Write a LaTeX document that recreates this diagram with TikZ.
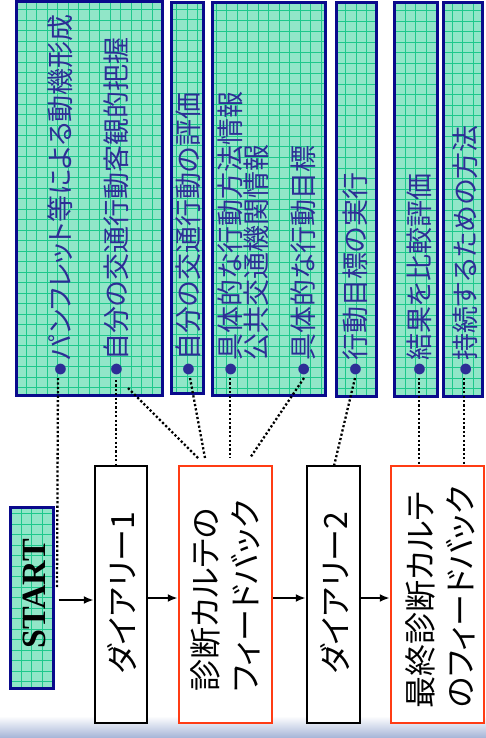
\documentclass[tikz,border=0pt]{standalone}
\usepackage{fontspec}
\setmainfont{Noto Sans CJK JP}[RawFeature=+palt]
\newfontfamily\startfont{Liberation Serif}
\usetikzlibrary{arrows.meta}
\definecolor{mint}{RGB}{145,230,200}
\definecolor{gridg}{RGB}{30,200,140}
\definecolor{navy}{RGB}{10,10,140}
\definecolor{tblue}{RGB}{45,45,150}
\definecolor{redo}{RGB}{255,60,20}
\definecolor{barblue}{RGB}{165,180,215}
\newcommand\bul{\raisebox{5pt}{\fontsize{12}{12}\selectfont ●}\hspace{3pt}}
\begin{document}
\begin{tikzpicture}[x=1pt,y=-1pt,
  tealbox/.style={draw=navy, line width=3pt, fill=mint, inner sep=0pt,
    path picture={\draw[gridg, line width=0.8pt] (path picture bounding box.south west) grid[step=10.5pt] (path picture bounding box.north east);}},
  ttxt/.style={rotate=90, anchor=west, text=tblue, font=\fontsize{27}{30}\selectfont, inner sep=0pt},
  flowbox/.style={draw=black, line width=2.5pt, fill=white, inner sep=0pt, minimum height=257pt},
  redbox/.style={draw=redo, line width=2.5pt, fill=white, inner sep=0pt, minimum height=257pt},
  ftxt/.style={rotate=90, align=left, font=\fontsize{32}{40}\selectfont, inner sep=0pt},
  dotl/.style={line width=2.3pt, dash pattern=on 2.2pt off 2.2pt},
  arr/.style={line width=2.3pt, -{Latex[length=10pt,width=8pt]}}]
\useasboundingbox (0,0) rectangle (486,738);
\shade[top color=white, bottom color=barblue] (0,716) rectangle (486,738);

% teal boxes
\node[tealbox, minimum width=146pt, minimum height=393pt] (boxA) at (89,198.5) {};
\node[tealbox, minimum width=32pt, minimum height=390pt] (boxB) at (187,198) {};
\node[tealbox, minimum width=113pt, minimum height=392pt] (boxC) at (268.5,199) {};
\node[tealbox, minimum width=40pt, minimum height=393pt] (boxD) at (356,199.5) {};
\node[tealbox, minimum width=43pt, minimum height=393pt] (boxE) at (415.5,199.5) {};
\node[tealbox, minimum width=39pt, minimum height=393pt] (boxF) at (462.5,199.5) {};

\node[ttxt] (tA1) at (60,376) {\bul パンフレット等による動機形成};
\node[ttxt] (tA2) at (116,376) {\bul 自分の交通行動客観的把握};
\node[ttxt] (tB) at (188,376) {\bul 自分の交通行動の評価};
\node[ttxt] (tC1) at (230,376) {\bul 具体的な行動方法情報};
\node[ttxt] (tC2) at (256,376) {\phantom{\bul}公共交通機関情報};
\node[ttxt] (tC3) at (303,376) {\bul 具体的な行動目標};
\node[ttxt] (tD) at (355,376) {\bul 行動目標の実行};
\node[ttxt] (tE) at (419,376) {\bul 結果を比較評価};
\node[ttxt] (tF) at (465,376) {\bul 持続するための方法};

% flow boxes
\node[tealbox, minimum width=43pt, minimum height=181pt] (start) at (31.5,597.5) {};
\node[rotate=90, inner sep=0pt, font=\startfont\bfseries\fontsize{34}{34}\selectfont] (starttxt) at (34,594) {START};
\node[flowbox, minimum width=52pt] (d1) at (121,594.5) {};
\node[ftxt] (d1t) at (122,593) {ダイアリー1};
\node[redbox, minimum width=93pt] (fb1) at (225.5,594.5) {};
\node[ftxt] (fb1t) at (225.5,596) {診断カルテの\\フィードバック};
\node[flowbox, minimum width=53pt] (d2) at (333.5,594.5) {};
\node[ftxt] (d2t) at (335,593) {ダイアリー2};
\node[redbox, minimum width=93pt] (fb2) at (437.5,594.5) {};
\node[ftxt] (fb2t) at (440.5,597) {最終診断カルテ\\のフィードバック};

% arrows
\draw[arr] ([xshift=4pt,yshift=-2.5pt]start.east) -- ([yshift=-2.5pt]start.east -| d1.west);
\draw[arr] ([yshift=-3.5pt]d1.east) -- ([yshift=-3.5pt]fb1.west);
\draw[arr] ([yshift=-3.5pt]fb1.east) -- ([yshift=-3.5pt]d2.west);
\draw[arr] ([yshift=-3.5pt]d2.east) -- ([yshift=-3.5pt]fb2.west);

% dotted connectors
\coordinate (pA1) at (58,378);
\coordinate (eA1) at (57,588);
\coordinate (pA2) at (116,380);
\coordinate (pA3) at (128,388);
\coordinate (pB) at (190,378);
\coordinate (pC1) at (230,378);
\coordinate (pC3) at (304,378);
\coordinate (pD) at (355,378);
\coordinate (pE) at (419,378);
\coordinate (pF) at (464,378);
\coordinate (e3) at (198,458);
\coordinate (e4) at (205,458);
\coordinate (e5) at (230,458);
\coordinate (e6) at (250,458);
\coordinate (e7) at (334,466);
\draw[dotl] (pA1) -- (eA1);
\draw[dotl] (pA2) -- (pA2 |- d1.north);
\draw[dotl] (pA3) -- (e3);
\draw[dotl] (pB) -- (e4);
\draw[dotl] (pC1) -- (e5);
\draw[dotl] (pC3) -- (e6);
\draw[dotl] (pD) -- (e7);
\draw[dotl] (pE) -- (pE |- fb2.north);
\draw[dotl] (pF) -- (pF |- fb2.north);
\end{tikzpicture}
\end{document}
